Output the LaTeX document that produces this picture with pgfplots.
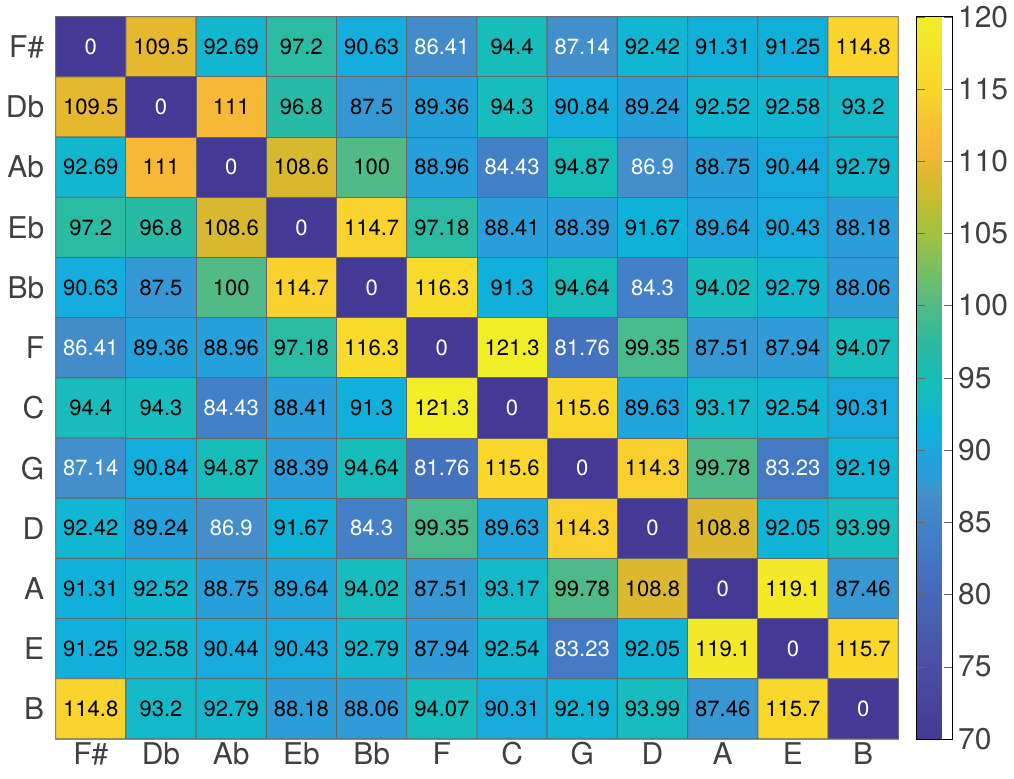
\documentclass[border=0pt]{standalone}
\usepackage{pgfplots}
\pgfplotsset{compat=1.18}
\usepackage{pgfplotstable}
\usepackage{fontspec}
\setmainfont{TeX Gyre Heros}

\pgfplotsset{colormap={parulaish}{
  rgb255(0pt)=(68,57,148)
  rgb255(10pt)=(74,78,165)
  rgb255(20pt)=(70,104,184)
  rgb255(30pt)=(66,132,201)
  rgb255(34.5pt)=(67,144,203)
  rgb255(35pt)=(53,152,212)
  rgb255(37pt)=(39,159,219)
  rgb255(38.5pt)=(36,160,219)
  rgb255(41.5pt)=(20,174,221)
  rgb255(43.5pt)=(14,178,216)
  rgb255(45pt)=(17,182,209)
  rgb255(48pt)=(23,188,190)
  rgb255(50pt)=(22,188,182)
  rgb255(55pt)=(46,186,160)
  rgb255(60pt)=(82,186,134)
  rgb255(70pt)=(160,195,62)
  rgb255(77pt)=(215,184,46)
  rgb255(79pt)=(229,184,48)
  rgb255(82pt)=(247,184,56)
  rgb255(90pt)=(250,212,44)
  rgb255(100pt)=(241,238,40)
}}

% pitch-class distance matrix, x = column, y = row (F# at top)
\pgfplotstableread{
x y v
0 0 0
1 0 109.5
2 0 92.69
3 0 97.2
4 0 90.63
5 0 86.41
6 0 94.4
7 0 87.14
8 0 92.42
9 0 91.31
10 0 91.25
11 0 114.8
0 1 109.5
1 1 0
2 1 111
3 1 96.8
4 1 87.5
5 1 89.36
6 1 94.3
7 1 90.84
8 1 89.24
9 1 92.52
10 1 92.58
11 1 93.2
0 2 92.69
1 2 111
2 2 0
3 2 108.6
4 2 100
5 2 88.96
6 2 84.43
7 2 94.87
8 2 86.9
9 2 88.75
10 2 90.44
11 2 92.79
0 3 97.2
1 3 96.8
2 3 108.6
3 3 0
4 3 114.7
5 3 97.18
6 3 88.41
7 3 88.39
8 3 91.67
9 3 89.64
10 3 90.43
11 3 88.18
0 4 90.63
1 4 87.5
2 4 100
3 4 114.7
4 4 0
5 4 116.3
6 4 91.3
7 4 94.64
8 4 84.3
9 4 94.02
10 4 92.79
11 4 88.06
0 5 86.41
1 5 89.36
2 5 88.96
3 5 97.18
4 5 116.3
5 5 0
6 5 121.3
7 5 81.76
8 5 99.35
9 5 87.51
10 5 87.94
11 5 94.07
0 6 94.4
1 6 94.3
2 6 84.43
3 6 88.41
4 6 91.3
5 6 121.3
6 6 0
7 6 115.6
8 6 89.63
9 6 93.17
10 6 92.54
11 6 90.31
0 7 87.14
1 7 90.84
2 7 94.87
3 7 88.39
4 7 94.64
5 7 81.76
6 7 115.6
7 7 0
8 7 114.3
9 7 99.78
10 7 83.23
11 7 92.19
0 8 92.42
1 8 89.24
2 8 86.9
3 8 91.67
4 8 84.3
5 8 99.35
6 8 89.63
7 8 114.3
8 8 0
9 8 108.8
10 8 92.05
11 8 93.99
0 9 91.31
1 9 92.52
2 9 88.75
3 9 89.64
4 9 94.02
5 9 87.51
6 9 93.17
7 9 99.78
8 9 108.8
9 9 0
10 9 119.1
11 9 87.46
0 10 91.25
1 10 92.58
2 10 90.44
3 10 90.43
4 10 92.79
5 10 87.94
6 10 92.54
7 10 83.23
8 10 92.05
9 10 119.1
10 10 0
11 10 115.7
0 11 114.8
1 11 93.2
2 11 92.79
3 11 88.18
4 11 88.06
5 11 94.07
6 11 90.31
7 11 92.19
8 11 93.99
9 11 87.46
10 11 115.7
11 11 0
}\mat

\begin{document}
\begin{tikzpicture}
\begin{axis}[
  scale only axis, width=16.8cm, height=14.4cm,
  colormap name=parulaish,
  point meta min=70, point meta max=120,
  xmin=-0.5, xmax=11.5, ymin=-0.5, ymax=11.5, y dir=reverse,
  xtick={0,...,11}, ytick={0,...,11},
  xticklabels={F\#,Db,Ab,Eb,Bb,F,C,G,D,A,E,B},
  yticklabels={F\#,Db,Ab,Eb,Bb,F,C,G,D,A,E,B},
  major tick length=0pt,
  tick label style={font=\fontsize{17}{17}\selectfont, text=black!75},
  xticklabel style={yshift=1.5pt},
  yticklabel style={xshift=-3pt},
  axis line style={black!45},
  colorbar,
  colorbar style={
    at={(parent axis.north east)}, anchor=north west, xshift=0.07cm,
    width=0.7cm,
    ytick={70,75,...,120},
    yticklabel pos=right,
    ytick align=inside, major tick length=0.16cm,
    tick style={black!60},
    yticklabel style={font=\fontsize{17}{17}\selectfont, text=black!75,
      xshift=0pt, /pgf/number format/assume math mode=true},
    axis line style={black},
  },
  labelnode/.style={only marks, mark=none, point meta=\thisrow{v},
    nodes near coords={\pgfmathprintnumber{\pgfplotspointmeta}},
    every node near coord/.style={anchor=center,
      font=\fontsize{12.5}{12.5}\selectfont, inner sep=0pt,
      /pgf/number format/assume math mode=true}},
]
\addplot[matrix plot*, draw=black!60, line width=0.5pt, mesh/cols=12,
  point meta=explicit] table[x=x, y=y, meta=v] {\mat};
\addplot[labelnode, restrict expr to domain={\thisrow{v}}{87.3:200}]
  table[x=x, y=y] {\mat};
\addplot[labelnode, restrict expr to domain={\thisrow{v}}{-1:87.3},
  every node near coord/.append style={text=white}]
  table[x=x, y=y] {\mat};
\end{axis}
\path (current bounding box.south) ++(0,-0.15cm);
\end{tikzpicture}
\end{document}
